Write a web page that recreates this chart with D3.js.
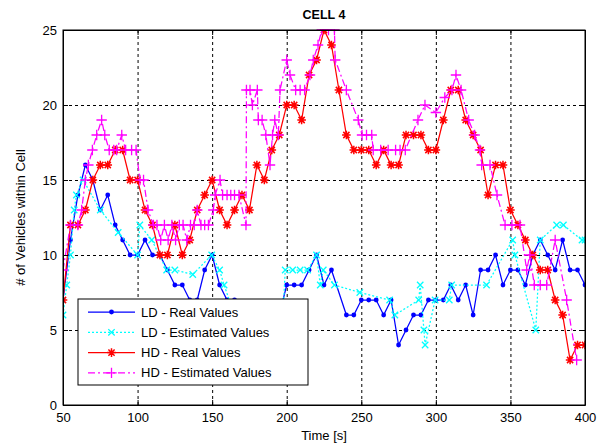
<!DOCTYPE html>
<html><head><meta charset="utf-8">
<script src="https://cdn.jsdelivr.net/npm/d3@7"></script>
<style>body{margin:0;background:#fff} svg{display:block} text{font-family:"Liberation Sans",Arial,sans-serif}</style>
</head><body><svg id="c" width="600" height="445"></svg>
<script>
// ---------- data ----------
const xTicks = [50,100,150,200,250,300,350,400];
const yTicks = [0,5,10,15,20,25];

const ldRealT = [50,55,60,65,70,75,80,85,90,95,100,105,110,115,120,125,130,135,140,145,150,155,160,165,170,175,180,185,190,195,200,205,210,215,220,225,230,240,245,250,255,260,265,270,275,280,285,290,295,300,305,310,315,320,325,330,335,340,345,350,355,360,365,370,375,380,385,390,395,400];
const ldRealV = [7,11,14,16,15,13,14,12,11,10,10,11,10,10,9,8,8,7,7,9,10,8,7,7,6,5,6,5,6,6,8,8,8,9,10,8,9,6,6,7,7,7,6,7,4,5,6,6,7,7,7,8,7,8,6,9,9,10,8,9,9,8,10,11,10,9,11,9,9,8];

const ldEstT = [50,52.5,55,57.5,59,63.5,75,87,100,101.5,109.5,119.5,125,137,149.7,155,158,165,175,185,197.5,199,204,209,214,220,222.5,224.5,232,249,269,272.5,288.5,289.5,292,292.8,299.5,309,310.6,334,351.5,353,367,370,381,385.5,398,400];
const ldEstV = [6,8,10,13,14,15,13,11.5,10,12,11,9,9,8.7,10,9,8,6,6,6,6,9,9,9,9,10,8,9,8,7.5,7,6,7,8,5,4,7,7,8,8,11,10,5,11,12,12,11,11];

const hdRealT = [50,55,60,65,70,75,80,85,90,95,100,105,110,115,120,125,130,135,140,145,150,155,160,165,170,175,180,185,190,195,200,205,210,215,220,225,230,235,240,245,250,255,260,265,270,275,280,285,290,295,300,305,310,315,320,325,330,335,340,345,350,355,360,365,370,375,380,385,390,395,400];
const hdRealV = [7,12,12,13,15,16,16,17,17,15,15,13,12,10,10,12,10,11,13,14,15,13,12,13,14,13,16,15,17,18,20,20,19,22,23,25,24,21,18,17,17,17,16,17,16,16,18,18,18,17,17,19,21,21,19,18,17,14,16,16,13,12,11,10,9,9,7,6,3,4,4];

const hdEstT = [50,55,60,62.5,65,67,69.7,72.6,75.9,78,81,84,86,89.4,92,96,99,101.6,104,107,110.6,113,115.5,118,120.5,123,125.5,128,130.5,133,135.5,138,140,142.5,145,147.5,150.8,152,155.3,157,160,162.5,165,168,172.7,173,175.4,177,180.3,181,183.5,186,188.8,190.5,192,194.4,195.5,200,202.2,206,209,212,215.6,217.8,221,223.5,228,232,232.5,240,248,250.5,253.5,257,258,263,268,273,276,279.5,288,292.7,300,306,310.8,313.5,316.9,322,326,329.6,330.7,336.3,341,346.4,351,356.4,360.9,363,366,370,374.3,380,387.7,394.4];
const hdEstV = [9,12,12,13,15,16,17,18,19,18,17,17,17,18,17,17,17,15,15,13,12,12,11,12,11,12,11,12,12,11,12,12,13,12,12,12,13,14,15,14,14,14,14,14,12,21,21,20,21,19,19,18,16,18,19,18,21,23,22,21,21,21,22,23,24,25,25,25,23,21,19,18,18,18,17,17,17,17,17,17,19,20,19.5,20.5,21,22,21,19,18,17,16,16,14,12,12,12,9,10,8,8,8,11,7,3];

const seriesNames = ["LD - Real Values","LD - Estimated Values","HD - Real Values","HD - Estimated Values"];

// ---------- layout ----------
const svg = d3.select("#c");
const L = 63, R = 585, T = 30, B = 405;
const x = d3.scaleLinear().domain([50,400]).range([L,R]);
const y = d3.scaleLinear().domain([0,25]).range([B,T]);

svg.append("rect").attr("width",600).attr("height",445).attr("fill","#fff");
svg.append("rect").attr("x",L).attr("y",T).attr("width",R-L).attr("height",B-T).attr("fill","#fff");

// grid
const gx = svg.append("g").attr("transform",`translate(0,${B})`)
  .call(d3.axisBottom(x).tickValues(xTicks).tickSize(-(B-T)).tickFormat(""));
const gy = svg.append("g").attr("transform",`translate(${L},0)`)
  .call(d3.axisLeft(y).tickValues(yTicks).tickSize(-(R-L)).tickFormat(""));
[gx,gy].forEach(g=>{g.select(".domain").remove();
  g.selectAll("line").attr("stroke","#000").attr("stroke-dasharray","3,3").attr("stroke-width",1);});

// series
const clip = svg.append("clipPath").attr("id","pc").append("rect")
  .attr("x",L).attr("y",T-1).attr("width",R-L).attr("height",B-T+2);
const plot = svg.append("g").attr("clip-path","url(#pc)");

function pts(T_,V_){return T_.map((t,i)=>[t,V_[i]]);}
const line = d3.line().x(d=>x(d[0])).y(d=>y(d[1]));

function marker(g, type, color, cx, cy){
  if(type==="dot"){
    g.append("circle").attr("cx",cx).attr("cy",cy).attr("r",2.4).attr("fill",color);
  } else if(type==="x"){
    const s=3.2;
    g.append("path").attr("d",`M${cx-s},${cy-s}L${cx+s},${cy+s}M${cx-s},${cy+s}L${cx+s},${cy-s}`)
      .attr("stroke",color).attr("stroke-width",1.3);
  } else if(type==="star"){
    const s=4.3, d=3.1;
    g.append("path").attr("d",`M${cx-s},${cy}L${cx+s},${cy}M${cx},${cy-s}L${cx},${cy+s}M${cx-d},${cy-d}L${cx+d},${cy+d}M${cx-d},${cy+d}L${cx+d},${cy-d}`)
      .attr("stroke",color).attr("stroke-width",1.5);
  } else if(type==="plus"){
    const s=5.2;
    g.append("path").attr("d",`M${cx-s},${cy}L${cx+s},${cy}M${cx},${cy-s}L${cx},${cy+s}`)
      .attr("stroke",color).attr("stroke-width",1.3);
  }
}

const series = [
  {data:pts(ldRealT,ldRealV), color:"#0000ff", dash:null, m:"dot"},
  {data:pts(ldEstT,ldEstV), color:"#00ffff", dash:"2,2", m:"x"},
  {data:pts(hdRealT,hdRealV), color:"#ff0000", dash:null, m:"star"},
  {data:pts(hdEstT,hdEstV), color:"#ff00ff", dash:"7,3,2,3", m:"plus"}
];

series.forEach(s=>{
  const g = plot.append("g");
  g.append("path").datum(s.data).attr("d",line).attr("fill","none")
    .attr("stroke",s.color).attr("stroke-width",1.25)
    .attr("stroke-dasharray",s.dash);
  s.data.forEach(d=>marker(g,s.m,s.color,x(d[0]),y(d[1])));
});

// box + inward ticks on all sides
svg.append("rect").attr("x",L).attr("y",T).attr("width",R-L).attr("height",B-T)
  .attr("fill","none").attr("stroke","#000").attr("stroke-width",1);

const axB = svg.append("g").attr("transform",`translate(0,${B})`)
  .call(d3.axisBottom(x).tickValues(xTicks).tickSizeInner(-5).tickSizeOuter(0).tickPadding(8));
const axT = svg.append("g").attr("transform",`translate(0,${T})`)
  .call(d3.axisTop(x).tickValues(xTicks).tickSizeInner(-5).tickSizeOuter(0).tickFormat(""));
const axL = svg.append("g").attr("transform",`translate(${L},0)`)
  .call(d3.axisLeft(y).tickValues(yTicks).tickSizeInner(-5).tickSizeOuter(0).tickPadding(6));
const axR = svg.append("g").attr("transform",`translate(${R},0)`)
  .call(d3.axisRight(y).tickValues(yTicks).tickSizeInner(-5).tickSizeOuter(0).tickFormat(""));
[axB,axT,axL,axR].forEach(g=>{
  g.select(".domain").attr("stroke","#000");
  g.selectAll("line").attr("stroke","#000");
  g.selectAll("text").attr("fill","#000").style("font-size","13px")
    .style("font-family",'"Liberation Sans",Arial,sans-serif');
});

// titles
svg.append("text").attr("x",(L+R)/2).attr("y",19).attr("text-anchor","middle")
  .style("font-size","12.5px").style("font-weight","bold").text("CELL 4");
svg.append("text").attr("x",(L+R)/2).attr("y",440).attr("text-anchor","middle")
  .style("font-size","13px").text("Time [s]");
svg.append("text").attr("transform",`translate(25,${(T+B)/2}) rotate(-90)`)
  .attr("text-anchor","middle").style("font-size","13px").text("# of Vehicles within Cell");

// legend
const lg = svg.append("g");
lg.append("rect").attr("x",78).attr("y",299).attr("width",230).attr("height",86)
  .attr("fill","#fff").attr("stroke","#000").attr("stroke-width",1);
seriesNames.forEach((nm,i)=>{
  const s = series[i], yy = 312 + i*20.3;
  lg.append("line").attr("x1",88).attr("x2",135).attr("y1",yy).attr("y2",yy)
    .attr("stroke",s.color).attr("stroke-width",1.25).attr("stroke-dasharray",s.dash);
  marker(lg,s.m,s.color,111.5,yy);
  lg.append("text").attr("x",141).attr("y",yy+4.5).style("font-size","13px").text(nm);
});
</script></body></html>
